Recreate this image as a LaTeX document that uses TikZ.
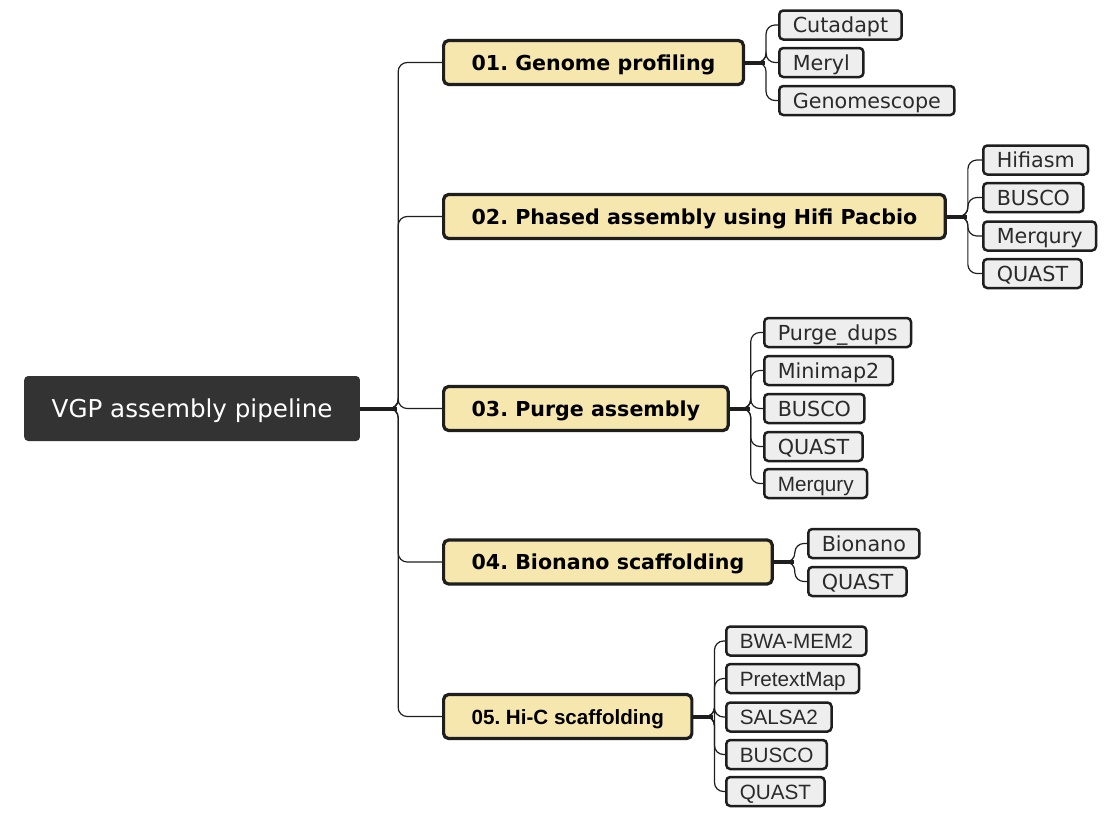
\documentclass[tikz,border=0pt]{standalone}
\usepackage{fontspec}
\setmainfont{DejaVu Sans}
\newfontfamily\arialfont{Liberation Sans}
\definecolor{rootgray}{HTML}{333333}
\definecolor{edge}{HTML}{1E1E1E}
\definecolor{stagefill}{HTML}{F6E7AE}
\definecolor{toolfill}{HTML}{EEEEEE}
\definecolor{tooltext}{HTML}{2A2A2A}
\frenchspacing
\begin{document}
\begin{tikzpicture}[x=1pt,y=-1pt,
    root/.style={fill=rootgray, text=white, rounded corners=4pt, minimum height=65pt,
      inner xsep=27.5pt, inner ysep=0pt, anchor=west, text height=20pt, text depth=2pt,
      font=\fontsize{24.6}{28}\selectfont},
    stage/.style={draw=edge, line width=3.2pt, fill=stagefill, rounded corners=5pt,
      minimum height=44pt, inner xsep=28pt, inner ysep=0pt, anchor=west,
      text height=17pt, text depth=2pt, font=\fontsize{20.6}{24}\selectfont\bfseries},
    tool/.style={draw=edge, line width=2.5pt, fill=toolfill, text=tooltext, rounded corners=4pt,
      minimum height=29pt, inner xsep=13.5pt, inner ysep=0pt, anchor=west,
      text height=17pt, text depth=2pt, font=\fontsize{20.7}{24}\selectfont},
    link/.style={draw=edge, line width=1.2pt, rounded corners=9pt},
    stub/.style={draw=edge, line width=4pt},
  ]
    \useasboundingbox (0,0) rectangle (1117,817);

    % Root
    \node[root] (root) at (24,408.5) {VGP assembly pipeline};

    % Stages
    \node[stage] (s1) at (442,62.5) {01. Genome profiling};
    \node[stage] (s2) at (442,216.5) {02. Phased assembly using Hifi Pacbio};
    \node[stage] (s3) at (442,408.5) {03. Purge assembly};
    \node[stage] (s4) at (442,562) {04. Bionano scaffolding};
    \node[stage, font=\fontsize{20.6}{24}\selectfont\arialfont\bfseries] (s5) at (442,716.5) {05. Hi-C scaffolding};

    % Tools of 01
    \node[tool] (t11) at (778,25) {Cutadapt};
    \node[tool] (t12) at (778,62.5) {Meryl};
    \node[tool] (t13) at (778,100.5) {Genomescope};

    % Tools of 02
    \node[tool] (t21) at (982,160) {Hifiasm};
    \node[tool] (t22) at (982,197.5) {BUSCO};
    \node[tool] (t23) at (982,236) {Merqury};
    \node[tool] (t24) at (982,273.5) {QUAST};

    % Tools of 03
    \node[tool] (t31) at (763,332.5) {Purge\_dups};
    \node[tool] (t32) at (763,370.5) {Minimap2};
    \node[tool] (t33) at (763,408.5) {BUSCO};
    \node[tool] (t34) at (763,446.5) {QUAST};
    \node[tool, font=\fontsize{20.7}{24}\selectfont\arialfont] (t35) at (763,483.5) {Merqury};

    % Tools of 04
    \node[tool] (t41) at (807,543.5) {Bionano};
    \node[tool] (t42) at (807,581.5) {QUAST};

    % Tools of 05
    \begin{scope}[tool/.append style={font=\fontsize{20.7}{24}\selectfont\arialfont}]
      \node[tool] (t51) at (725,641) {BWA-MEM2};
      \node[tool] (t52) at (725,678.5) {PretextMap};
      \node[tool] (t53) at (725,717) {SALSA2};
      \node[tool] (t54) at (725,754.5) {BUSCO};
      \node[tool] (t55) at (725,791.5) {QUAST};
    \end{scope}

    % Root to stages
    \foreach \c in {s1,s2,s3,s4,s5}
      \draw[link] (root.east) -- ++(38,0) |- (\c.west);
    \draw[stub] (root.east) -- ++(37,0);

    % Stages to tools
    \foreach \c in {t11,t12,t13}
      \draw[link] (s1.east) -- ++(21,0) |- (\c.west);
    \foreach \c in {t21,t22,t23,t24}
      \draw[link] (s2.east) -- ++(21,0) |- (\c.west);
    \foreach \c in {t31,t32,t33,t34,t35}
      \draw[link] (s3.east) -- ++(21,0) |- (\c.west);
    \foreach \c in {t41,t42}
      \draw[link] (s4.east) -- ++(21,0) |- (\c.west);
    \foreach \c in {t51,t52,t53,t54,t55}
      \draw[link] (s5.east) -- ++(21,0) |- (\c.west);
    \foreach \s in {s1,s2,s3,s4,s5}
      \draw[stub] (\s.east) -- ++(20,0);
\end{tikzpicture}
\end{document}
